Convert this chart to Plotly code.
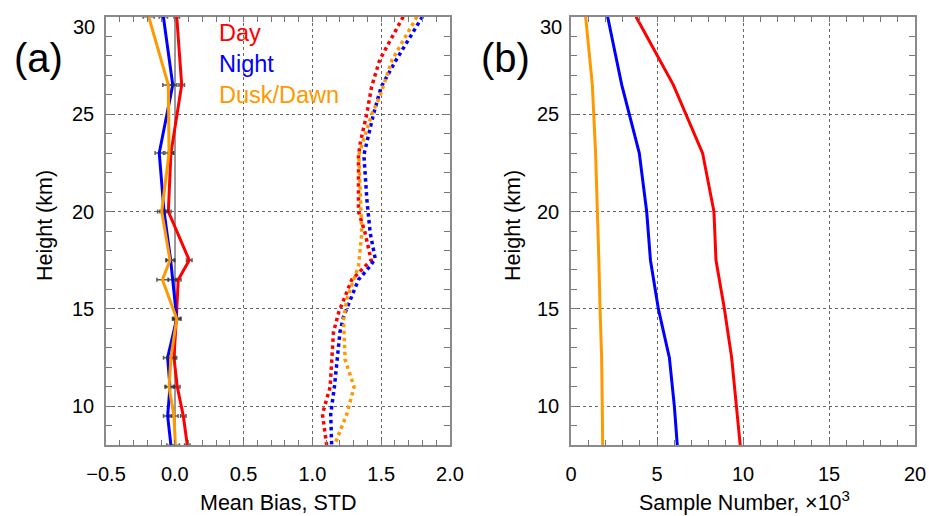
import plotly.graph_objects as go

# ---------------- data ----------------
bias_heights = [30, 26.5, 23, 20, 17.5, 16.5, 14.5, 12.5, 11, 9.5, 8]
day_bias = [0.014, 0.05, -0.028, -0.047, 0.105, 0.025, 0.011, -0.006, 0.018, 0.062, 0.091]
night_bias = [-0.083, -0.015, -0.113, -0.078, -0.03, -0.015, 0.014, -0.052, -0.035, -0.052, -0.028]
dusk_bias = [-0.19, -0.047, -0.042, -0.095, -0.035, -0.09, 0.014, -0.028, -0.042, -0.006, 0.004]
day_err = [0.02, 0.02, 0.02, 0.02, 0.02, 0.02, 0.02, 0.02, 0.02, 0.02, 0.02]
night_err = [0.03, 0.03, 0.03, 0.03, 0.03, 0.03, 0.03, 0.03, 0.03, 0.03, 0.03]
dusk_err = [0.04, 0.04, 0.03, 0.03, 0.03, 0.04, 0.03, 0.03, 0.03, 0.03, 0.03]

day_std_h = [30, 27.8, 26.4, 25, 23.6, 22.9, 20, 18.9, 17.5, 16.5, 14.8, 13.8, 11, 9.6, 8]
day_std = [1.66, 1.49, 1.43, 1.395, 1.35, 1.335, 1.335, 1.383, 1.427, 1.286, 1.19, 1.153, 1.129, 1.073, 1.104]
night_std_h = [30, 27.8, 26.4, 25, 22.9, 20.6, 18.9, 17.6, 17.2, 16.5, 14.6, 13.8, 11, 9.6, 8]
night_std = [1.80, 1.61, 1.50, 1.444, 1.374, 1.396, 1.42, 1.456, 1.42, 1.335, 1.226, 1.2, 1.16, 1.133, 1.14]
dusk_std_h = [30, 27.8, 25.9, 25, 22.9, 20.6, 18.9, 17.2, 15.5, 14.4, 12.4, 11, 9.6, 8]
dusk_std = [1.76, 1.58, 1.49, 1.432, 1.337, 1.347, 1.359, 1.335, 1.25, 1.226, 1.238, 1.303, 1.25, 1.16]

sample_h = [30, 26.5, 23, 20, 17.5, 15, 12.5, 10, 8]
day_n = [3.78, 5.95, 7.65, 8.31, 8.43, 8.92, 9.34, 9.63, 9.84]
night_n = [2.13, 2.95, 3.97, 4.40, 4.62, 5.08, 5.72, 6.01, 6.18]
dusk_n = [0.85, 1.24, 1.43, 1.55, 1.62, 1.69, 1.78, 1.82, 1.84]

height_ticks = [10, 15, 20, 25]
series_names = ["Day", "Night", "Dusk/Dawn"]
colors = ["#ff0000", "#0000ff", "#ff9900"]

W, H = 929, 516
FONT = "Liberation Sans, Arial, sans-serif"

fig = go.Figure()

bias_sets = [day_bias, night_bias, dusk_bias]
err_sets = [day_err, night_err, dusk_err]
std_sets = [(day_std_h, day_std), (night_std_h, night_std), (dusk_std_h, dusk_std)]
n_sets = [day_n, night_n, dusk_n]

# STD dotted
for (hh, vv), c, nm in zip(std_sets, colors, series_names):
    fig.add_trace(go.Scatter(x=vv, y=hh, mode="lines", name=nm + " STD",
                             line=dict(color=c, width=3.5, dash="dot"),
                             xaxis="x", yaxis="y", showlegend=False))
# mean bias solid with error bars
for b, e, c, nm in zip(bias_sets, err_sets, colors, series_names):
    fig.add_trace(go.Scatter(x=b, y=bias_heights, mode="lines", name=nm,
                             line=dict(color=c, width=3),
                             error_x=dict(type="data", array=e, visible=True,
                                          color="rgba(50,50,50,0.8)", thickness=1.5, width=2),
                             xaxis="x", yaxis="y", showlegend=False))
# sample numbers
for n, c, nm in zip(n_sets, colors, series_names):
    fig.add_trace(go.Scatter(x=n, y=sample_h, mode="lines", name=nm,
                             line=dict(color=c, width=3),
                             xaxis="x2", yaxis="y2", showlegend=False))

axcommon = dict(
    ticks="inside", ticklen=6, tickcolor="#777", tickwidth=1,
    mirror="allticks", showline=True, linecolor="#8a8a8a", linewidth=1.5,
    showgrid=True, gridcolor="#666", griddash="dot", gridwidth=1,
    tickfont=dict(family=FONT, size=20, color="black"),
    automargin=False,
)

y0 = (H - 445.3) / H
y1 = (H - 16.7) / H

yax = dict(axcommon, range=[8, 30], tickmode="array",
           tickvals=height_ticks,
           domain=[y0, y1], zeroline=False, ticklabelstandoff=6,
           minor=dict(tickmode="linear", tick0=0, dtick=1, ticks="inside",
                      ticklen=6, tickcolor="#777", showgrid=False))

fig.update_layout(
    width=W, height=H,
    margin=dict(l=0, r=0, t=0, b=0),
    paper_bgcolor="white", plot_bgcolor="white",
    font=dict(family=FONT, size=20, color="black"),
    xaxis=dict(axcommon, range=[-0.5, 2.0], tick0=-0.5, dtick=0.5, tickformat=".1f",
               domain=[106 / W, 450 / W], anchor="y",
               zeroline=True, zerolinecolor="#999", zerolinewidth=1.5,
               ticklabelstandoff=10,
               minor=dict(tickmode="linear", tick0=0, dtick=0.1, ticks="inside",
                          ticklen=6, tickcolor="#777", showgrid=False)),
    yaxis=dict(yax, anchor="x"),
    xaxis2=dict(axcommon, range=[0, 20], tick0=0, dtick=5,
                domain=[571 / W, 915 / W], anchor="y2", zeroline=False,
                ticklabelstandoff=10,
                minor=dict(tickmode="linear", tick0=0, dtick=1, ticks="inside",
                           ticklen=6, tickcolor="#777", showgrid=False)),
    yaxis2=dict(yax, anchor="x2"),
)

def px(xp, yp):
    return xp / W, (H - yp) / H

ann = []
def add(text, xp, yp, size, color="black", xanchor="center", yanchor="middle", angle=0):
    x, y = px(xp, yp)
    ann.append(dict(text=text, x=x, y=y, xref="paper", yref="paper", showarrow=False,
                    xanchor=xanchor, yanchor=yanchor, textangle=angle,
                    font=dict(family=FONT, size=size, color=color)))

add("(a)", 38, 58, 40)
add("(b)", 505, 58, 40)
add("30", 97, 27, 20, xanchor="right")
add("30", 564, 27, 20, xanchor="right")
add("Height (km)", 45, 226, 21.5, angle=-90)
add("Height (km)", 513, 226, 21.5, angle=-90)
add("Mean Bias, STD", 278, 503, 21.5)
add("Sample Number, ×10<sup>3</sup>", 744, 501, 21.5)
legend_y = [33, 64, 95]
for nm, c, yy in zip(series_names, colors, legend_y):
    add(nm, 217, yy, 23.5, color=c, xanchor="left")

fig.update_layout(annotations=ann)
fig.write_html("out.html")
